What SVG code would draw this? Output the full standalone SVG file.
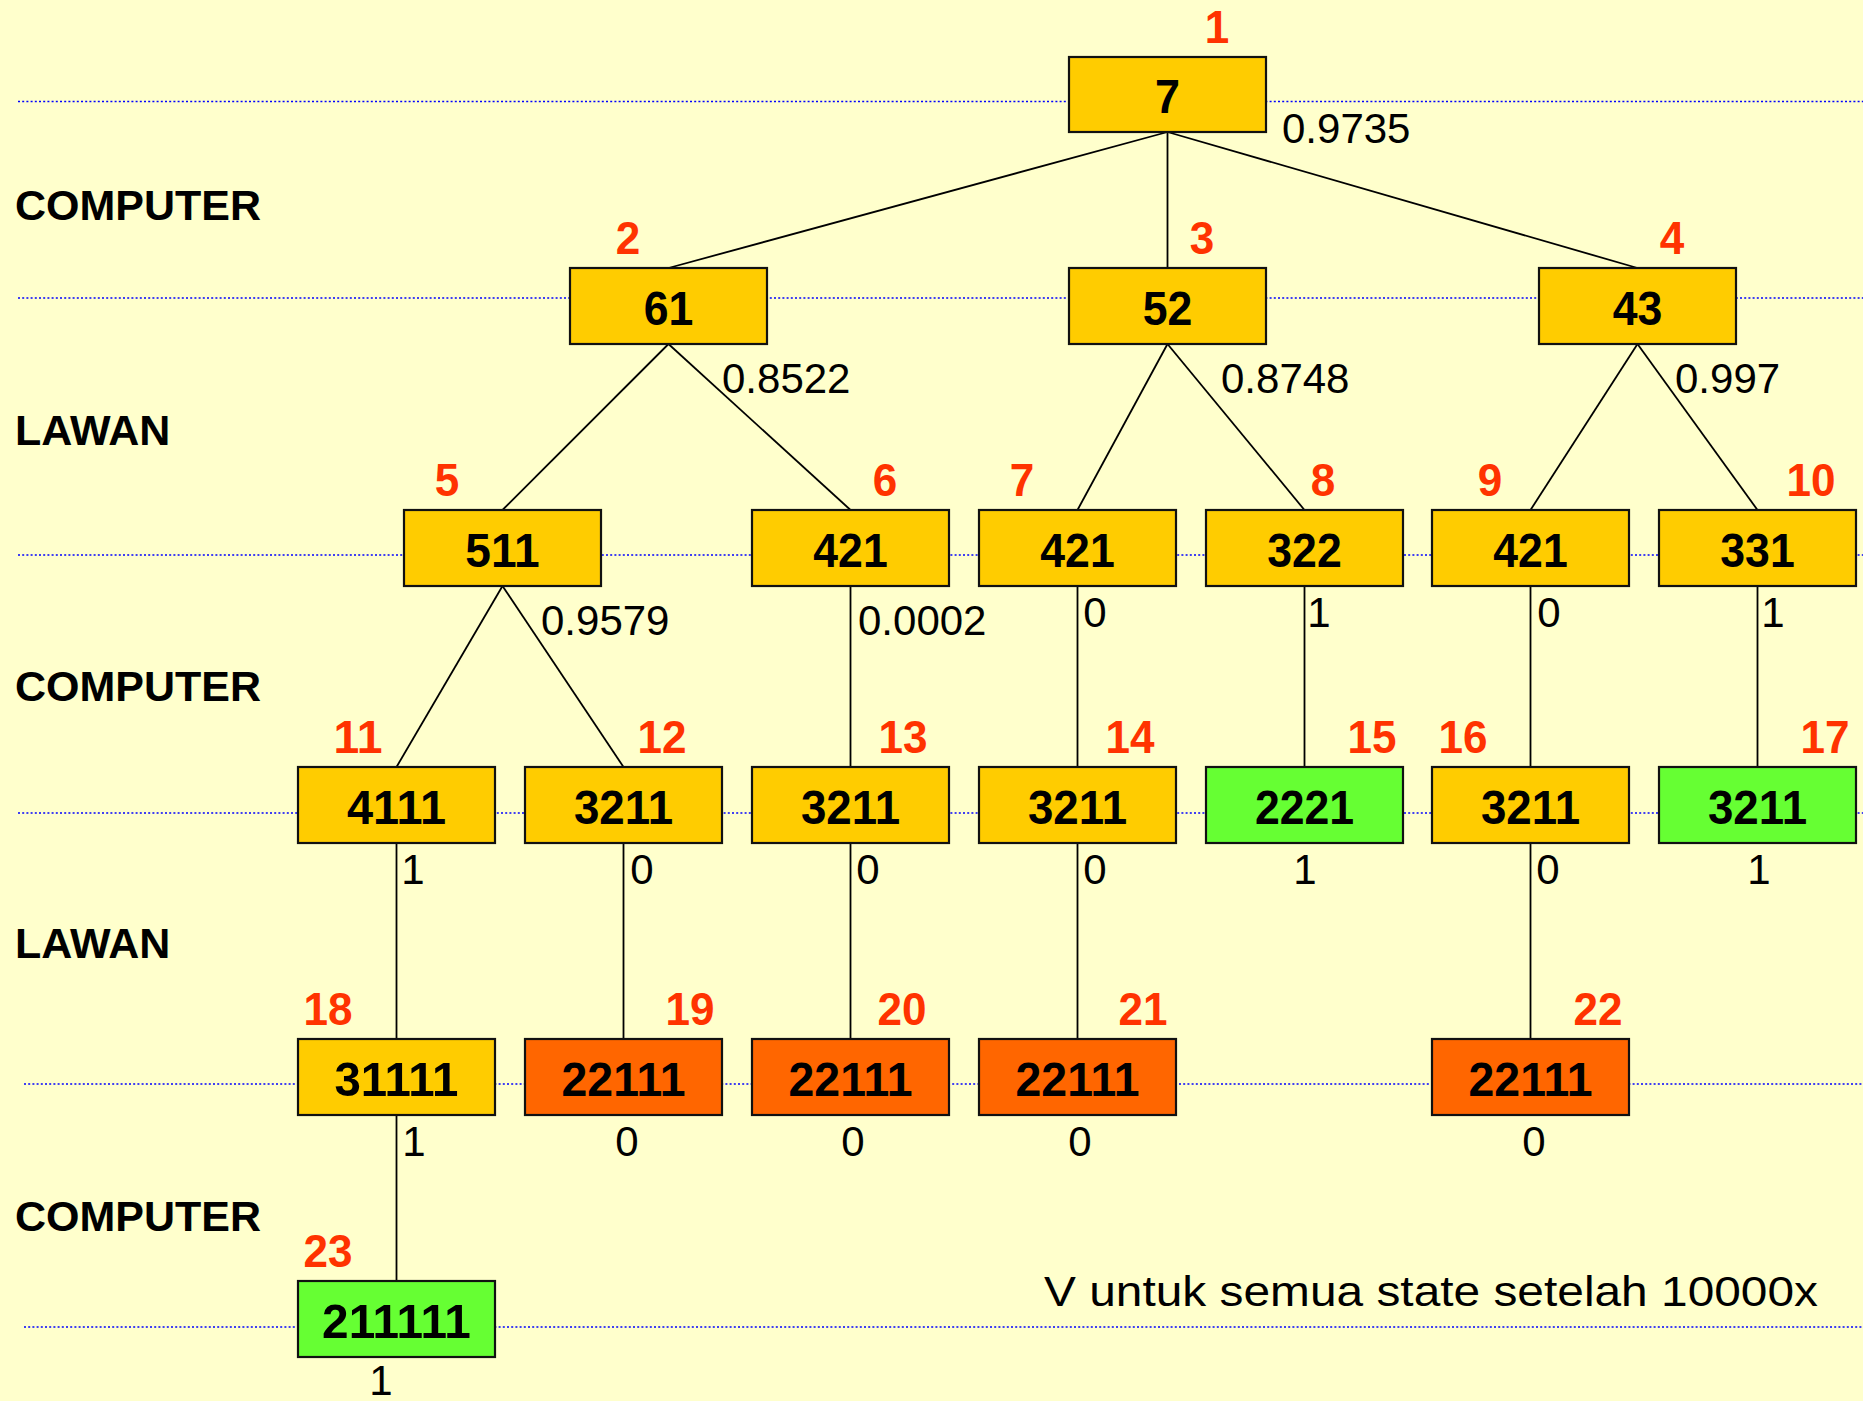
<svg xmlns="http://www.w3.org/2000/svg" width="1863" height="1401" viewBox="0 0 1863 1401">
  <style>
    .guide { stroke: #0000ff; stroke-width: 1.6; stroke-dasharray: 2 2.2; fill: none; }
    .edge { stroke: #000; stroke-width: 1.8; fill: none; }
    .box { stroke: #111; stroke-width: 2.2; }
    .y { fill: #ffcc00; }
    .o { fill: #ff6600; }
    .g { fill: #66ff33; }
    .lbl { font-family: "Liberation Sans", Arial, sans-serif; font-weight: bold; font-size: 49px; fill: #000; text-anchor: middle; }
    .num { font-family: "Liberation Sans", Arial, sans-serif; font-weight: bold; font-size: 47px; fill: #ff3300; text-anchor: middle; }
    .val { font-family: "Liberation Sans", Arial, sans-serif; font-size: 42px; fill: #000; }
    .mid { text-anchor: middle; }
    .side { font-family: "Liberation Sans", Arial, sans-serif; font-weight: bold; font-size: 43px; fill: #000; }
  </style>
  <rect width="1863" height="1401" fill="#ffffcc"/>

  <!-- level guide lines -->
  <g id="guides">
    <line class="guide" x1="18" y1="101.5" x2="1863" y2="101.5"/>
    <line class="guide" x1="18" y1="298" x2="1863" y2="298"/>
    <line class="guide" x1="18" y1="555" x2="1863" y2="555"/>
    <line class="guide" x1="18" y1="813" x2="1863" y2="813"/>
    <line class="guide" x1="24" y1="1084" x2="1863" y2="1084"/>
    <line class="guide" x1="24" y1="1327" x2="1863" y2="1327"/>
  </g>

  <!-- player turn labels -->
  <g id="turns">
    <text class="side" x="15" y="220">COMPUTER</text>
    <text class="side" x="15" y="445">LAWAN</text>
    <text class="side" x="15" y="701">COMPUTER</text>
    <text class="side" x="15" y="958">LAWAN</text>
    <text class="side" x="15" y="1231">COMPUTER</text>
  </g>

  <!-- connectors -->
  <g id="connectors">
    <line class="edge" x1="1167.5" y1="132" x2="668.5" y2="268"/>
    <line class="edge" x1="1167.5" y1="132" x2="1167.5" y2="268"/>
    <line class="edge" x1="1167.5" y1="132" x2="1637.5" y2="268"/>
    <line class="edge" x1="668.5" y1="344" x2="502.5" y2="510"/>
    <line class="edge" x1="668.5" y1="344" x2="850.5" y2="510"/>
    <line class="edge" x1="1167.5" y1="344" x2="1077.5" y2="510"/>
    <line class="edge" x1="1167.5" y1="344" x2="1304.5" y2="510"/>
    <line class="edge" x1="1637.5" y1="344" x2="1530.5" y2="510"/>
    <line class="edge" x1="1637.5" y1="344" x2="1757.5" y2="510"/>
    <line class="edge" x1="502.5" y1="586" x2="396.5" y2="767"/>
    <line class="edge" x1="502.5" y1="586" x2="623.5" y2="767"/>
    <line class="edge" x1="850.5" y1="586" x2="850.5" y2="767"/>
    <line class="edge" x1="1077.5" y1="586" x2="1077.5" y2="767"/>
    <line class="edge" x1="1304.5" y1="586" x2="1304.5" y2="767"/>
    <line class="edge" x1="1530.5" y1="586" x2="1530.5" y2="767"/>
    <line class="edge" x1="1757.5" y1="586" x2="1757.5" y2="767"/>
    <line class="edge" x1="396.5" y1="843" x2="396.5" y2="1039"/>
    <line class="edge" x1="623.5" y1="843" x2="623.5" y2="1039"/>
    <line class="edge" x1="850.5" y1="843" x2="850.5" y2="1039"/>
    <line class="edge" x1="1077.5" y1="843" x2="1077.5" y2="1039"/>
    <line class="edge" x1="1530.5" y1="843" x2="1530.5" y2="1039"/>
    <line class="edge" x1="396.5" y1="1115" x2="396.5" y2="1281"/>
  </g>

  <!-- edge values -->
  <g id="values">
    <text class="val" x="1282" y="143">0.9735</text>
    <text class="val" x="722" y="393">0.8522</text>
    <text class="val" x="1221" y="393">0.8748</text>
    <text class="val" x="1675" y="393">0.997</text>
    <text class="val" x="541" y="635">0.9579</text>
    <text class="val" x="858" y="635">0.0002</text>
    <text class="val mid" x="1095" y="627">0</text>
    <text class="val mid" x="1319" y="627">1</text>
    <text class="val mid" x="1549" y="627">0</text>
    <text class="val mid" x="1773" y="627">1</text>
    <text class="val mid" x="413" y="884">1</text>
    <text class="val mid" x="642" y="884">0</text>
    <text class="val mid" x="868" y="884">0</text>
    <text class="val mid" x="1095" y="884">0</text>
    <text class="val mid" x="1305" y="884">1</text>
    <text class="val mid" x="1548" y="884">0</text>
    <text class="val mid" x="1759" y="884">1</text>
    <text class="val mid" x="414" y="1156">1</text>
    <text class="val mid" x="627" y="1156">0</text>
    <text class="val mid" x="853" y="1156">0</text>
    <text class="val mid" x="1080" y="1156">0</text>
    <text class="val mid" x="1534" y="1156">0</text>
    <text class="val mid" x="381" y="1395">1</text>
  </g>

  <!-- nodes -->
  <g id="n1"><rect class="box y" x="1069" y="57" width="197" height="75"/><text class="lbl" x="1167.5" y="113" textLength="25" lengthAdjust="spacingAndGlyphs">7</text><text class="num" x="1217" y="43" textLength="24.5" lengthAdjust="spacingAndGlyphs">1</text></g>
  <g id="n2"><rect class="box y" x="570" y="268" width="197" height="76"/><text class="lbl" x="668.5" y="325" textLength="49.6" lengthAdjust="spacingAndGlyphs">61</text><text class="num" x="628" y="254" textLength="24.5" lengthAdjust="spacingAndGlyphs">2</text></g>
  <g id="n3"><rect class="box y" x="1069" y="268" width="197" height="76"/><text class="lbl" x="1167.5" y="325" textLength="49.6" lengthAdjust="spacingAndGlyphs">52</text><text class="num" x="1202" y="254" textLength="24.5" lengthAdjust="spacingAndGlyphs">3</text></g>
  <g id="n4"><rect class="box y" x="1539" y="268" width="197" height="76"/><text class="lbl" x="1637.5" y="325" textLength="49.6" lengthAdjust="spacingAndGlyphs">43</text><text class="num" x="1672" y="254" textLength="24.5" lengthAdjust="spacingAndGlyphs">4</text></g>

  <g id="n5"><rect class="box y" x="404" y="510" width="197" height="76"/><text class="lbl" x="502.5" y="567" textLength="74.4" lengthAdjust="spacingAndGlyphs">511</text><text class="num" x="447" y="496" textLength="24.5" lengthAdjust="spacingAndGlyphs">5</text></g>
  <g id="n6"><rect class="box y" x="752" y="510" width="197" height="76"/><text class="lbl" x="850.5" y="567" textLength="74.4" lengthAdjust="spacingAndGlyphs">421</text><text class="num" x="885" y="496" textLength="24.5" lengthAdjust="spacingAndGlyphs">6</text></g>
  <g id="n7"><rect class="box y" x="979" y="510" width="197" height="76"/><text class="lbl" x="1077.5" y="567" textLength="74.4" lengthAdjust="spacingAndGlyphs">421</text><text class="num" x="1022" y="496" textLength="24.5" lengthAdjust="spacingAndGlyphs">7</text></g>
  <g id="n8"><rect class="box y" x="1206" y="510" width="197" height="76"/><text class="lbl" x="1304.5" y="567" textLength="74.4" lengthAdjust="spacingAndGlyphs">322</text><text class="num" x="1323" y="496" textLength="24.5" lengthAdjust="spacingAndGlyphs">8</text></g>
  <g id="n9"><rect class="box y" x="1432" y="510" width="197" height="76"/><text class="lbl" x="1530.5" y="567" textLength="74.4" lengthAdjust="spacingAndGlyphs">421</text><text class="num" x="1490" y="496" textLength="24.5" lengthAdjust="spacingAndGlyphs">9</text></g>
  <g id="n10"><rect class="box y" x="1659" y="510" width="197" height="76"/><text class="lbl" x="1757.5" y="567" textLength="74.4" lengthAdjust="spacingAndGlyphs">331</text><text class="num" x="1811" y="496" textLength="49" lengthAdjust="spacingAndGlyphs">10</text></g>

  <g id="n11"><rect class="box y" x="298" y="767" width="197" height="76"/><text class="lbl" x="396.5" y="824" textLength="99.2" lengthAdjust="spacingAndGlyphs">4111</text><text class="num" x="358" y="753" textLength="49" lengthAdjust="spacingAndGlyphs">11</text></g>
  <g id="n12"><rect class="box y" x="525" y="767" width="197" height="76"/><text class="lbl" x="623.5" y="824" textLength="99.2" lengthAdjust="spacingAndGlyphs">3211</text><text class="num" x="662" y="753" textLength="49" lengthAdjust="spacingAndGlyphs">12</text></g>
  <g id="n13"><rect class="box y" x="752" y="767" width="197" height="76"/><text class="lbl" x="850.5" y="824" textLength="99.2" lengthAdjust="spacingAndGlyphs">3211</text><text class="num" x="903" y="753" textLength="49" lengthAdjust="spacingAndGlyphs">13</text></g>
  <g id="n14"><rect class="box y" x="979" y="767" width="197" height="76"/><text class="lbl" x="1077.5" y="824" textLength="99.2" lengthAdjust="spacingAndGlyphs">3211</text><text class="num" x="1130" y="753" textLength="49" lengthAdjust="spacingAndGlyphs">14</text></g>
  <g id="n15"><rect class="box g" x="1206" y="767" width="197" height="76"/><text class="lbl" x="1304.5" y="824" textLength="99.2" lengthAdjust="spacingAndGlyphs">2221</text><text class="num" x="1372" y="753" textLength="49" lengthAdjust="spacingAndGlyphs">15</text></g>
  <g id="n16"><rect class="box y" x="1432" y="767" width="197" height="76"/><text class="lbl" x="1530.5" y="824" textLength="99.2" lengthAdjust="spacingAndGlyphs">3211</text><text class="num" x="1463" y="753" textLength="49" lengthAdjust="spacingAndGlyphs">16</text></g>
  <g id="n17"><rect class="box g" x="1659" y="767" width="197" height="76"/><text class="lbl" x="1757.5" y="824" textLength="99.2" lengthAdjust="spacingAndGlyphs">3211</text><text class="num" x="1825" y="753" textLength="49" lengthAdjust="spacingAndGlyphs">17</text></g>

  <g id="n18"><rect class="box y" x="298" y="1039" width="197" height="76"/><text class="lbl" x="396.5" y="1096" textLength="124" lengthAdjust="spacingAndGlyphs">31111</text><text class="num" x="328" y="1025" textLength="49" lengthAdjust="spacingAndGlyphs">18</text></g>
  <g id="n19"><rect class="box o" x="525" y="1039" width="197" height="76"/><text class="lbl" x="623.5" y="1096" textLength="124" lengthAdjust="spacingAndGlyphs">22111</text><text class="num" x="690" y="1025" textLength="49" lengthAdjust="spacingAndGlyphs">19</text></g>
  <g id="n20"><rect class="box o" x="752" y="1039" width="197" height="76"/><text class="lbl" x="850.5" y="1096" textLength="124" lengthAdjust="spacingAndGlyphs">22111</text><text class="num" x="902" y="1025" textLength="49" lengthAdjust="spacingAndGlyphs">20</text></g>
  <g id="n21"><rect class="box o" x="979" y="1039" width="197" height="76"/><text class="lbl" x="1077.5" y="1096" textLength="124" lengthAdjust="spacingAndGlyphs">22111</text><text class="num" x="1143" y="1025" textLength="49" lengthAdjust="spacingAndGlyphs">21</text></g>
  <g id="n22"><rect class="box o" x="1432" y="1039" width="197" height="76"/><text class="lbl" x="1530.5" y="1096" textLength="124" lengthAdjust="spacingAndGlyphs">22111</text><text class="num" x="1598" y="1025" textLength="49" lengthAdjust="spacingAndGlyphs">22</text></g>

  <g id="n23"><rect class="box g" x="298" y="1281" width="197" height="76"/><text class="lbl" x="396.5" y="1338" textLength="148.8" lengthAdjust="spacingAndGlyphs">211111</text><text class="num" x="328" y="1267" textLength="49" lengthAdjust="spacingAndGlyphs">23</text></g>

  <text class="val" x="1044" y="1306" font-size="46" textLength="774" lengthAdjust="spacingAndGlyphs">V untuk semua state setelah 10000x</text>
</svg>
